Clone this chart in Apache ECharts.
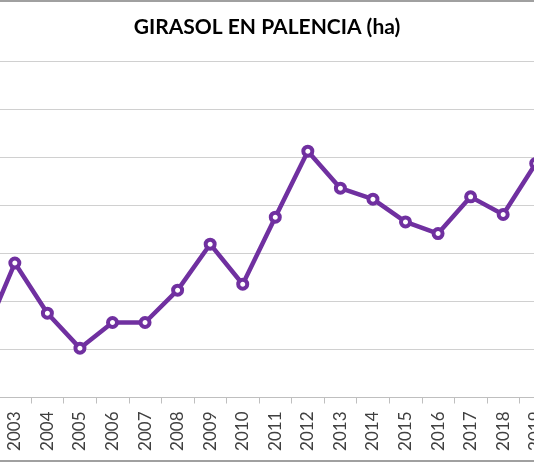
<!DOCTYPE html>
<html>
<head>
<meta charset="utf-8">
<script src="https://cdn.jsdelivr.net/npm/echarts@6/dist/echarts.min.js"></script>
<style>
html,body{margin:0;padding:0;background:#fff;}
#wrap{position:relative;width:534px;height:462px;overflow:hidden;}
#chart{position:absolute;left:-34px;top:0;width:602px;height:462px;}
#frame{position:absolute;left:0;top:0;width:534px;height:462px;box-sizing:border-box;border-top:2px solid #a0a0a0;border-bottom:2px solid #a0a0a0;pointer-events:none;}
</style>
</head>
<body>
<div id="wrap"><div id="chart"></div><div id="frame"></div></div>
<script>
const years = ['2002','2003','2004','2005','2006','2007','2008','2009','2010','2011','2012','2013','2014','2015','2016','2017','2018','2019'];
const hectares = [5970,14000,8780,5140,7810,7810,11180,15970,11800,18780,25660,21800,20660,18290,17080,20900,19060,24380];
const titleText = 'GIRASOL EN PALENCIA (ha)';

const chart = echarts.init(document.getElementById('chart'), null, {renderer:'canvas'});
chart.setOption({
  animation:false,
  title:{
    text:titleText,
    left:'center',
    top:12,
    textStyle:{fontFamily:'Lato',fontWeight:'bold',fontSize:21,color:'#000'}
  },
  grid:{left:0,right:16,top:61.5,bottom:64.5,containLabel:false},
  xAxis:{
    type:'category',
    data:years,
    boundaryGap:true,
    axisLine:{lineStyle:{color:'#bfbfbf',width:1}},
    axisTick:{show:true,length:6,lineStyle:{color:'#bfbfbf'}},
    axisLabel:{rotate:90,margin:14,fontFamily:'Lato',fontSize:17,color:'#404040',interval:0}
  },
  yAxis:{
    type:'value',
    min:0,max:35000,interval:5000,
    axisLine:{show:false},
    axisTick:{show:false},
    axisLabel:{show:false},
    splitLine:{lineStyle:{color:'#d0d0d0',width:1}}
  },
  series:[{
    type:'line',
    data:hectares,
    lineStyle:{color:'#7030a0',width:4.5},
    symbol:'circle',
    symbolSize:9,
    itemStyle:{color:'#ffffff',borderColor:'#7030a0',borderWidth:4},
    z:3
  }]
});
</script>
</body>
</html>
